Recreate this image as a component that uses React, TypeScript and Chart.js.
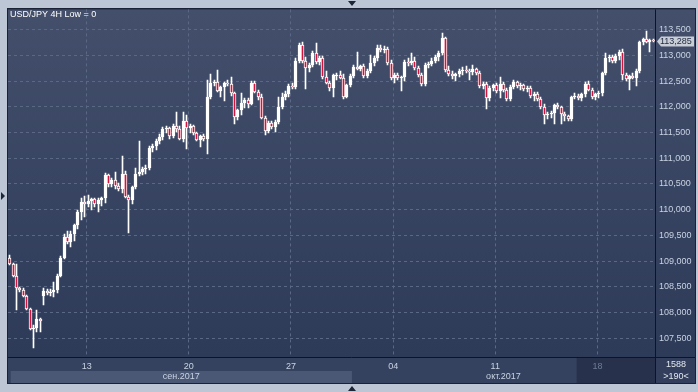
import React, { useEffect, useRef } from "react";
import { Chart, registerables } from "chart.js";

Chart.register(...registerables);

// ---- data (USD/JPY 4H candles) ----
const openP = [
  109.07, 108.94, 108.72, 108.47, 108.44, 108.33, 108.07, 107.68, 107.70, 107.88,
  108.33, 108.42, 108.38, 108.41, 108.43, 108.72, 109.07, 109.47, 109.38, 109.52,
  109.70, 109.96, 110.15, 110.12, 110.17, 110.20, 110.12, 110.19, 110.22, 110.68,
  110.50, 110.58, 110.46, 110.40, 110.70, 110.25, 110.19, 110.44, 110.70, 110.74,
  110.80, 110.82, 111.20, 111.24, 111.33, 111.42, 111.56, 111.58, 111.43, 111.63,
  111.57, 111.38, 111.72, 111.58, 111.62, 111.50, 111.36, 111.43, 111.38, 112.19,
  112.46, 112.48, 112.30, 112.38, 112.46, 112.44, 112.26, 111.80, 111.93, 112.08,
  112.14, 112.06, 112.46, 112.29, 112.20, 111.79, 111.53, 111.68, 111.60, 111.70,
  112.00, 112.20, 112.24, 112.41, 112.38, 112.90, 113.20, 112.90, 112.76, 112.82,
  113.05, 112.88, 112.95, 112.58, 112.46, 112.36, 112.61, 112.62, 112.56, 112.20,
  112.42, 112.60, 112.78, 112.74, 112.80, 112.60, 112.70, 112.86, 112.95, 113.14,
  113.10, 113.12, 112.85, 112.56, 112.62, 112.56, 112.58, 112.88, 112.86, 112.90,
  112.76, 112.62, 112.44, 112.82, 112.84, 112.90, 112.96, 113.04, 113.33, 112.72,
  112.64, 112.60, 112.64, 112.70, 112.72, 112.70, 112.68, 112.74, 112.66, 112.40,
  112.45, 112.18, 112.36, 112.42, 112.30, 112.45, 112.32, 112.16, 112.38, 112.48,
  112.40, 112.42, 112.34, 112.36, 112.22, 112.25, 112.16, 111.99, 111.84, 111.86,
  111.88, 112.04, 111.99, 111.86, 111.82, 111.76, 112.20, 112.22, 112.18, 112.24,
  112.45, 112.32, 112.20, 112.24, 112.26, 112.66, 112.94, 112.96, 112.90, 112.98,
  113.06, 112.61, 112.55, 112.60, 112.56, 112.70, 113.26, 113.31, 113.27, 113.30,
];
const highP = [
  109.12, 108.96, 108.95, 108.50, 108.47, 108.35, 108.08, 107.75, 108.06, 107.90,
  108.47, 108.46, 108.45, 108.60, 108.75, 109.10, 109.52, 109.59, 109.58, 109.72,
  109.99, 110.22, 110.26, 110.28, 110.22, 110.22, 110.22, 110.24, 110.72, 110.70,
  110.62, 110.73, 110.52, 111.04, 110.76, 110.28, 110.46, 110.82, 111.33, 110.84,
  110.86, 111.24, 111.28, 111.38, 111.48, 111.60, 111.62, 111.60, 111.66, 111.89,
  111.62, 111.90, 111.84, 111.66, 111.64, 111.52, 111.45, 111.48, 112.53, 112.64,
  112.52, 112.71, 112.40, 112.48, 112.52, 112.58, 112.28, 111.95, 112.26, 112.18,
  112.17, 112.50, 112.50, 112.33, 112.24, 111.82, 111.72, 111.72, 111.74, 112.19,
  112.26, 112.30, 112.44, 112.46, 112.95, 113.24, 113.26, 112.96, 112.86, 113.08,
  113.24, 112.98, 112.98, 112.70, 112.50, 112.64, 112.66, 112.70, 112.64, 112.45,
  112.63, 112.82, 113.07, 112.82, 112.84, 112.74, 113.00, 112.98, 113.20, 113.20,
  113.18, 113.16, 112.92, 112.66, 112.66, 112.60, 112.92, 112.94, 113.04, 112.96,
  112.80, 112.66, 112.86, 112.88, 112.94, 113.00, 113.08, 113.43, 113.36, 112.80,
  112.70, 112.66, 112.74, 112.78, 112.80, 112.74, 112.81, 112.76, 112.70, 112.48,
  112.48, 112.40, 112.44, 112.46, 112.58, 112.48, 112.36, 112.42, 112.52, 112.50,
  112.46, 112.45, 112.40, 112.40, 112.28, 112.28, 112.20, 112.06, 111.90, 111.92,
  112.06, 112.08, 112.01, 111.90, 111.84, 112.22, 112.26, 112.24, 112.26, 112.48,
  112.50, 112.36, 112.26, 112.30, 112.68, 113.04, 113.00, 113.00, 113.02, 113.10,
  113.13, 112.66, 112.62, 112.66, 112.74, 113.28, 113.34, 113.47, 113.32, 113.31,
];
const lowP = [
  108.92, 108.70, 108.05, 108.40, 108.30, 108.05, 107.66, 107.31, 107.63, 107.62,
  108.15, 108.35, 108.33, 108.30, 108.38, 108.70, 109.05, 109.34, 109.28, 109.40,
  109.62, 109.80, 109.86, 110.06, 110.00, 110.06, 109.95, 110.08, 110.14, 110.45,
  110.44, 110.41, 110.36, 110.32, 110.22, 109.54, 110.12, 110.40, 110.66, 110.68,
  110.70, 110.78, 111.12, 111.16, 111.28, 111.36, 111.50, 111.38, 111.40, 111.52,
  111.35, 111.32, 111.19, 111.50, 111.46, 111.33, 111.22, 111.33, 111.09, 112.15,
  112.40, 112.28, 112.20, 112.11, 112.40, 112.22, 111.66, 111.74, 111.84, 111.98,
  111.98, 112.03, 112.26, 112.14, 111.76, 111.45, 111.50, 111.56, 111.52, 111.66,
  111.96, 112.14, 112.20, 112.34, 112.34, 112.86, 112.85, 112.35, 112.68, 112.78,
  112.84, 112.82, 112.55, 112.44, 112.30, 112.20, 112.52, 112.54, 112.16, 112.18,
  112.38, 112.56, 112.72, 112.70, 112.56, 112.56, 112.66, 112.80, 112.90, 113.06,
  113.04, 112.82, 112.52, 112.46, 112.52, 112.30, 112.50, 112.80, 112.82, 112.72,
  112.58, 112.40, 112.40, 112.76, 112.80, 112.86, 112.90, 113.00, 112.68, 112.60,
  112.55, 112.50, 112.58, 112.62, 112.66, 112.52, 112.62, 112.62, 112.36, 112.34,
  111.96, 112.12, 112.30, 112.26, 112.18, 112.28, 112.12, 112.12, 112.34, 112.36,
  112.32, 112.30, 112.28, 112.18, 112.12, 112.12, 111.96, 111.67, 111.76, 111.78,
  111.67, 111.96, 111.67, 111.72, 111.72, 111.72, 112.15, 112.14, 112.12, 112.20,
  112.30, 112.16, 112.14, 112.18, 112.22, 112.62, 112.88, 112.86, 112.86, 112.92,
  112.52, 112.50, 112.32, 112.54, 112.40, 112.66, 113.20, 113.24, 113.06, 113.27,
];
const closeP = [
  108.94, 108.72, 108.47, 108.44, 108.33, 108.07, 107.68, 107.70, 107.88, 107.84,
  108.42, 108.38, 108.41, 108.43, 108.72, 109.07, 109.47, 109.38, 109.52, 109.70,
  109.96, 110.15, 110.12, 110.17, 110.20, 110.12, 110.19, 110.22, 110.68, 110.50,
  110.58, 110.46, 110.40, 110.70, 110.25, 110.19, 110.44, 110.70, 110.74, 110.80,
  110.82, 111.20, 111.24, 111.33, 111.42, 111.56, 111.58, 111.43, 111.63, 111.57,
  111.38, 111.72, 111.58, 111.62, 111.50, 111.36, 111.43, 111.38, 112.19, 112.46,
  112.48, 112.30, 112.38, 112.46, 112.44, 112.26, 111.80, 111.93, 112.08, 112.14,
  112.06, 112.46, 112.29, 112.20, 111.79, 111.53, 111.68, 111.60, 111.70, 112.00,
  112.20, 112.24, 112.41, 112.38, 112.90, 113.20, 112.90, 112.76, 112.82, 113.05,
  112.88, 112.95, 112.58, 112.46, 112.36, 112.61, 112.62, 112.56, 112.20, 112.42,
  112.60, 112.78, 112.74, 112.80, 112.60, 112.70, 112.86, 112.95, 113.14, 113.10,
  113.12, 112.85, 112.56, 112.62, 112.56, 112.58, 112.88, 112.86, 112.90, 112.76,
  112.62, 112.44, 112.82, 112.84, 112.90, 112.96, 113.04, 113.33, 112.72, 112.64,
  112.60, 112.64, 112.70, 112.72, 112.70, 112.68, 112.74, 112.66, 112.40, 112.45,
  112.18, 112.36, 112.42, 112.30, 112.45, 112.32, 112.16, 112.38, 112.48, 112.40,
  112.42, 112.34, 112.36, 112.22, 112.25, 112.16, 111.99, 111.84, 111.86, 111.88,
  112.04, 111.99, 111.86, 111.82, 111.76, 112.20, 112.22, 112.18, 112.24, 112.45,
  112.32, 112.20, 112.24, 112.26, 112.66, 112.94, 112.96, 112.90, 112.98, 113.06,
  112.61, 112.55, 112.60, 112.56, 112.70, 113.26, 113.31, 113.27, 113.30, 113.285,
];

const yTickValues = [107.5, 108.0, 108.5, 109.0, 109.5, 110.0, 110.5, 111.0, 111.5, 112.0, 112.5, 113.0, 113.5];
const dayLabels = ["13", "20", "27", "04", "11", "18"];
const dayTickPos = [22.6, 52.6, 82.6, 112.6, 142.6, 172.6];
const monthLabels = ["сен.2017", "окт.2017"];
const monthStartPos = [0.3, 100.5];
const monthEndPos = [100.5, 189.5];
const currentWeekStart = 166.5;
const titleText = "USD/JPY 4H Low = 0";
const totalBarsText = "1588";
const visibleBarsText = ">190<";
const Y_MIN = 107.137;
const Y_MAX = 113.894;

const RED = "#d4143c";
const WHITE = "#ffffff";
const FONT = "Liberation Sans, Arial, sans-serif";
const TEXT = "#c9d3e3";

const fmt = (v: number) => v.toFixed(3).replace(".", ",");

const framePlugin = {
  id: "frame",
  beforeDraw(chart: any) {
    const { ctx, chartArea: a, scales } = chart;
    const W = chart.width;
    const H = chart.height;
    const xs = scales.x;
    ctx.save();
    // outer light frame
    ctx.fillStyle = "#bcc6d4";
    ctx.fillRect(0, 0, W, H);
    // panel border
    ctx.fillStyle = "#1a2236";
    ctx.fillRect(7, 8, 689, 376);
    // plot gradient (plot + right axis)
    const g = ctx.createLinearGradient(0, a.top, 0, a.bottom);
    g.addColorStop(0, "#434f6b");
    g.addColorStop(1, "#2d3a58");
    ctx.fillStyle = g;
    ctx.fillRect(a.left, a.top, 695 - a.left, a.bottom - a.top);
    // x axis area
    ctx.fillStyle = "#35425f";
    ctx.fillRect(a.left, a.bottom, a.right - a.left, 383 - a.bottom);
    // month band (first month)
    const x0 = xs.getPixelForValue(monthStartPos[0]);
    const x1 = xs.getPixelForValue(monthEndPos[0]);
    ctx.fillStyle = "#4a5876";
    ctx.fillRect(x0, a.bottom + 14, x1 - x0, 383 - a.bottom - 14);
    // current week dark region
    const xc = xs.getPixelForValue(currentWeekStart);
    ctx.fillStyle = "#27314b";
    ctx.fillRect(xc, a.bottom, a.right - xc, 383 - a.bottom);
    // right-bottom box
    ctx.fillStyle = "#323e5b";
    ctx.fillRect(a.right, a.bottom, 695 - a.right, 383 - a.bottom);
    ctx.restore();
  },
  afterDatasetsUpdate(chart: any) {
    chart.data.datasets.forEach((_ds: any, di: number) => {
      const meta = chart.getDatasetMeta(di);
      meta.data.forEach((el: any) => {
        el.x = Math.floor(el.x) + 0.5;
        const top = Math.round(Math.min(el.y, el.base));
        let bot = Math.round(Math.max(el.y, el.base));
        if (bot - top < 1) bot = top + 1;
        el.y = top;
        el.base = bot;
        el.height = bot - top;
      });
    });
  },
  afterDraw(chart: any) {
    const { ctx, chartArea: a, scales } = chart;
    const xs = scales.x;
    const ys = scales.y;
    ctx.save();
    // separators
    ctx.strokeStyle = "#0e1422";
    ctx.lineWidth = 1;
    ctx.beginPath();
    ctx.moveTo(a.right + 0.5, a.top);
    ctx.lineTo(a.right + 0.5, 383);
    ctx.moveTo(a.left, a.bottom + 0.5);
    ctx.lineTo(695, a.bottom + 0.5);
    ctx.stroke();
    // title
    ctx.fillStyle = "#ffffff";
    ctx.font = `9px ${FONT}`;
    ctx.textBaseline = "middle";
    ctx.textAlign = "left";
    ctx.fillText(titleText, 10, 15);
    // month labels
    ctx.fillStyle = TEXT;
    ctx.textAlign = "center";
    monthLabels.forEach((m, i) => {
      const p0 = xs.getPixelForValue(monthStartPos[i]);
      const p1 = xs.getPixelForValue(monthEndPos[i]);
      ctx.fillText(m, (p0 + p1) / 2, a.bottom + 20);
    });
    // bottom-right texts
    ctx.fillStyle = "#e2e8f0";
    ctx.fillText(totalBarsText, 676, a.bottom + 8);
    ctx.fillText(visibleBarsText, 676, a.bottom + 20);
    // price tag
    const last = closeP[closeP.length - 1];
    const py = Math.round(ys.getPixelForValue(last)) + 0.5;
    ctx.fillStyle = "#c8cdd6";
    ctx.beginPath();
    ctx.moveTo(a.right + 2, py);
    ctx.lineTo(a.right + 6, py - 5);
    ctx.lineTo(694, py - 5);
    ctx.lineTo(694, py + 5);
    ctx.lineTo(a.right + 6, py + 5);
    ctx.closePath();
    ctx.fill();
    ctx.fillStyle = "#1e2a40";
    ctx.textAlign = "left";
    ctx.fillText(fmt(last), a.right + 5, py + 0.5);
    // frame triangles
    ctx.fillStyle = "#1d2638";
    ctx.beginPath();
    ctx.moveTo(348, 1); ctx.lineTo(356, 1); ctx.lineTo(352, 6); ctx.closePath();
    ctx.moveTo(348, 391); ctx.lineTo(356, 391); ctx.lineTo(352, 386); ctx.closePath();
    ctx.moveTo(1, 192); ctx.lineTo(1, 200); ctx.lineTo(5, 196); ctx.closePath();
    ctx.fill();
    ctx.restore();
  },
};

export default function App() {
  const ref = useRef<HTMLCanvasElement | null>(null);
  useEffect(() => {
    document.body.style.margin = "0";
    const canvas = ref.current;
    if (!canvas) return;
    const idx = closeP.map((_, i) => i);
    const bodyData = idx.map((i) => {
      const lo = Math.min(openP[i], closeP[i]);
      const hi = Math.max(openP[i], closeP[i]);
      return { x: i, y: [lo, hi] };
    });
    const wickData = idx.map((i) => ({ x: i, y: [lowP[i], highP[i]] }));
    const bodyColors = idx.map((i) => (closeP[i] < openP[i] ? RED : WHITE));

    const chart = new Chart(canvas, {
      type: "bar",
      data: {
        datasets: [
          {
            label: "body",
            data: bodyData as any,
            backgroundColor: bodyColors,
            borderColor: WHITE,
            borderWidth: 1,
            borderSkipped: false,
            barThickness: 3,
            grouped: false,
          } as any,
          {
            label: "wick",
            data: wickData as any,
            backgroundColor: WHITE,
            borderWidth: 0,
            barThickness: 1,
            grouped: false,
          } as any,
        ],
      },
      options: {
        responsive: false,
        animation: false,
        devicePixelRatio: 1,
        layout: { padding: { left: 8, top: 9, right: 2, bottom: 9 } },
        plugins: { legend: { display: false }, tooltip: { enabled: false } },
        scales: {
          x: {
            type: "linear",
            min: -0.5,
            max: 189.5,
            offset: false,
            grid: { offset: false, color: "#5a6886", lineWidth: 1, drawTicks: false },
            border: { display: false, dash: [3, 3] },
            afterBuildTicks: (s: any) => {
              s.ticks = dayTickPos.map((v) => ({ value: v }));
            },
            afterFit: (s: any) => {
              s.height = 26;
            },
            ticks: {
              autoSkip: false,
              maxRotation: 0,
              padding: 4,
              font: { family: FONT, size: 9 },
              color: (c: any) => (c.index === dayLabels.length - 1 ? "#6f7c96" : TEXT),
              callback: (_v: any, i: number) => dayLabels[i],
            },
          },
          y: {
            type: "linear",
            position: "right",
            min: Y_MIN,
            max: Y_MAX,
            grid: { color: "#5a6886", lineWidth: 1, drawTicks: false },
            border: { display: false, dash: [3, 3] },
            afterBuildTicks: (s: any) => {
              s.ticks = yTickValues.map((v) => ({ value: v }));
            },
            afterFit: (s: any) => {
              s.width = 41;
            },
            ticks: {
              padding: 4,
              font: { family: FONT, size: 9 },
              color: TEXT,
              callback: (v: any) => fmt(Number(v)),
            },
          },
        },
      } as any,
      plugins: [framePlugin],
    });
    return () => chart.destroy();
  }, []);
  return <canvas ref={ref} width={698} height={392} style={{ display: "block", width: 698, height: 392 }} />;
}
